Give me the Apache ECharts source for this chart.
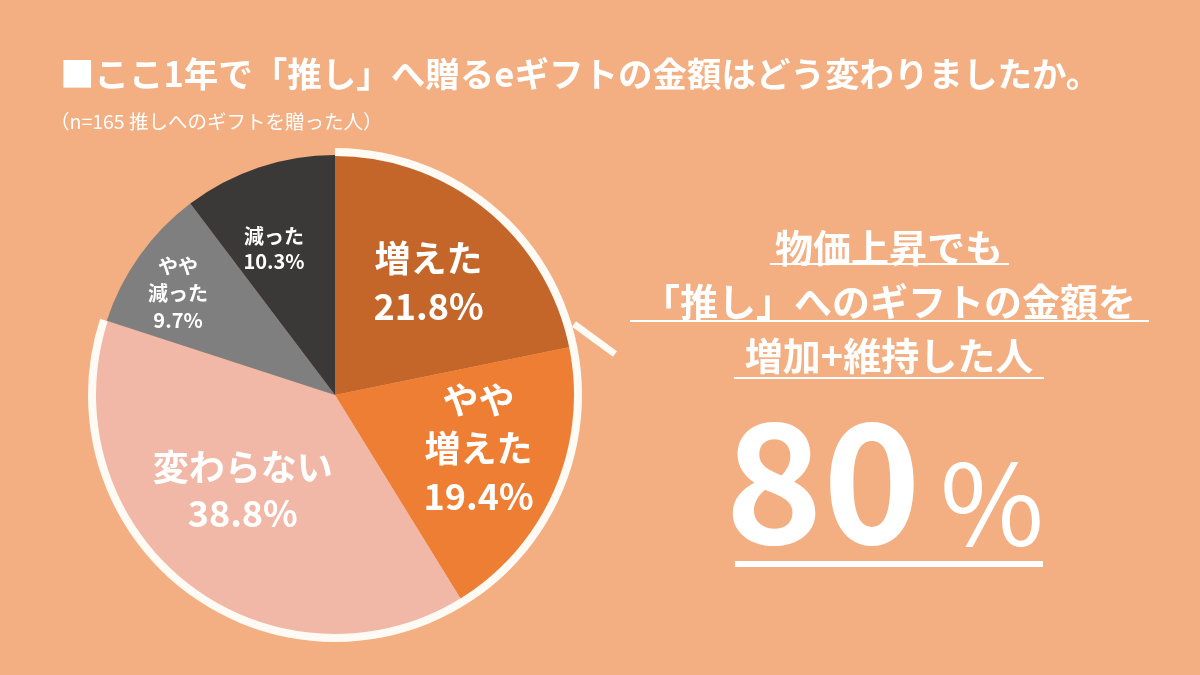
<!DOCTYPE html>
<html>
<head>
<meta charset="utf-8">
<title>推しへのeギフト金額の変化</title>
<script src="https://cdn.jsdelivr.net/npm/echarts@6/dist/echarts.min.js"></script>
<style>
    html, body { margin: 0; padding: 0; background: #F3AE81; }
    #main { width: 1200px; height: 675px; }
</style>
</head>
<body>
<div id="main"></div>
<script type="text/javascript">
// データ
var categories = ['増えた', 'やや増えた', '変わらない', 'やや減った', '減った'];
var shares = [21.8, 19.4, 38.8, 9.7, 10.3];
var sliceColors = ['#C4662A', '#EE7E33', '#F2B8A7', '#7F7F7F', '#3B3838'];
var keptOrRaised = ['増えた', 'やや増えた', '変わらない'];   // 白い枠で囲む範囲
var headlineValue = '80';

var JP = '"Noto Sans CJK JP", "Noto Sans", sans-serif';
var TEXT = '#FFFFFF';
var RING = '#FFFAF3';
var center = [335, 395];

// ラベルの大きさと位置の微調整 (大きい扇形 / 小さい扇形)
var labelStyles = [
    {fontSize: 36, lineHeight: 48, shift: [-2, 4]},
    {fontSize: 36, lineHeight: 48, shift: [5, -7]},
    {fontSize: 36, lineHeight: 46, shift: [1, -23]},
    {fontSize: 20, lineHeight: 27, shift: [-34, -14]},
    {fontSize: 20, lineHeight: 25, shift: [-13, -3]}
];

var pieData = categories.map(function (name, i) {
    return {name: name, value: shares[i], itemStyle: {color: sliceColors[i]}};
});

var labelData = categories.map(function (name, i) {
    var s = labelStyles[i];
    return {
        name: name,
        value: shares[i],
        label: {fontSize: s.fontSize, lineHeight: s.lineHeight}
    };
});

var ringValue = 0;
categories.forEach(function (name, i) {
    if (keptOrRaised.indexOf(name) >= 0) ringValue += shares[i];
});
var restValue = shares.reduce(function (a, b) { return a + b; }, 0) - ringValue;

var myChart = echarts.init(document.getElementById('main'));

var option = {
    backgroundColor: '#F3AE81',
    animation: false,
    title: [
        {
            text: '■ここ1年で「推し」へ贈るeギフトの金額はどう変わりましたか。',
            left: 55,
            top: 52,
            textStyle: {color: TEXT, fontSize: 34.5, fontWeight: 'bold', fontFamily: JP}
        },
        {
            text: '（n=165 推しへのギフトを贈った人）',
            left: 45,
            top: 107,
            textStyle: {color: TEXT, fontSize: 19.5, fontWeight: 'normal', fontFamily: JP}
        }
    ],
    series: [
        {
            type: 'pie',
            center: center,
            radius: 240,
            startAngle: 90,
            clockwise: true,
            silent: true,
            label: {show: false},
            labelLine: {show: false},
            itemStyle: {borderWidth: 0},
            data: pieData
        },
        {
            // 増加+維持 を囲む白い枠
            type: 'pie',
            center: center,
            radius: [239, 247],
            startAngle: 90,
            clockwise: true,
            silent: true,
            label: {show: false},
            labelLine: {show: false},
            data: [
                {name: '増加+維持', value: ringValue, itemStyle: {color: RING}},
                {name: 'その他', value: restValue, itemStyle: {color: 'transparent'}}
            ]
        },
        {
            // ラベル用 (透明)
            type: 'pie',
            center: center,
            radius: 296,
            startAngle: 90,
            clockwise: true,
            silent: true,
            minShowLabelAngle: 0,
            avoidLabelOverlap: false,
            itemStyle: {color: 'transparent', borderWidth: 0},
            labelLine: {show: false},
            label: {
                show: true,
                position: 'inside',
                color: TEXT,
                fontFamily: JP,
                fontWeight: 'bold',
                formatter: function (p) {
                    return p.name.replace(/^やや/, 'やや\n') + '\n' + p.value.toFixed(1) + '%';
                }
            },
            labelLayout: function (params) {
                var s = labelStyles[params.dataIndex].shift;
                return {dx: s[0], dy: s[1], hideOverlap: false};
            },
            data: labelData
        }
    ],
    graphic: [
        // 吹き出しのしっぽ
        {type: 'line', silent: true, shape: {x1: 574, y1: 324, x2: 615, y2: 354},
            style: {stroke: RING, lineWidth: 7}},
        // 右側のテキスト
        {type: 'text', x: 889, y: 248, style: {text: '物価上昇でも', fill: TEXT, font: 'bold 38px ' + JP, align: 'center', verticalAlign: 'middle'}},
        {type: 'line', shape: {x1: 770, y1: 264, x2: 1009, y2: 264}, style: {stroke: TEXT, lineWidth: 2}},
        {type: 'text', x: 889, y: 302, style: {text: '「推し」へのギフトの金額を', fill: TEXT, font: 'bold 38px ' + JP, align: 'center', verticalAlign: 'middle'}},
        {type: 'line', shape: {x1: 630, y1: 321, x2: 1149, y2: 321}, style: {stroke: TEXT, lineWidth: 2}},
        {type: 'text', x: 889, y: 356, style: {text: '増加+維持した人', fill: TEXT, font: 'bold 38px ' + JP, align: 'center', verticalAlign: 'middle'}},
        {type: 'line', shape: {x1: 734, y1: 378, x2: 1044, y2: 378}, style: {stroke: TEXT, lineWidth: 2}},
        {type: 'text', x: 921, y: 481, style: {text: headlineValue, fill: TEXT, font: 'bold 166px ' + JP, align: 'right', verticalAlign: 'middle'}},
        {type: 'text', x: 940, y: 503, style: {text: '%', fill: TEXT, font: 'normal 113px ' + JP, align: 'left', verticalAlign: 'middle'}},
        {type: 'line', shape: {x1: 735, y1: 564, x2: 1043, y2: 564}, style: {stroke: TEXT, lineWidth: 6}}
    ]
};

myChart.setOption(option);
</script>
</body>
</html>
